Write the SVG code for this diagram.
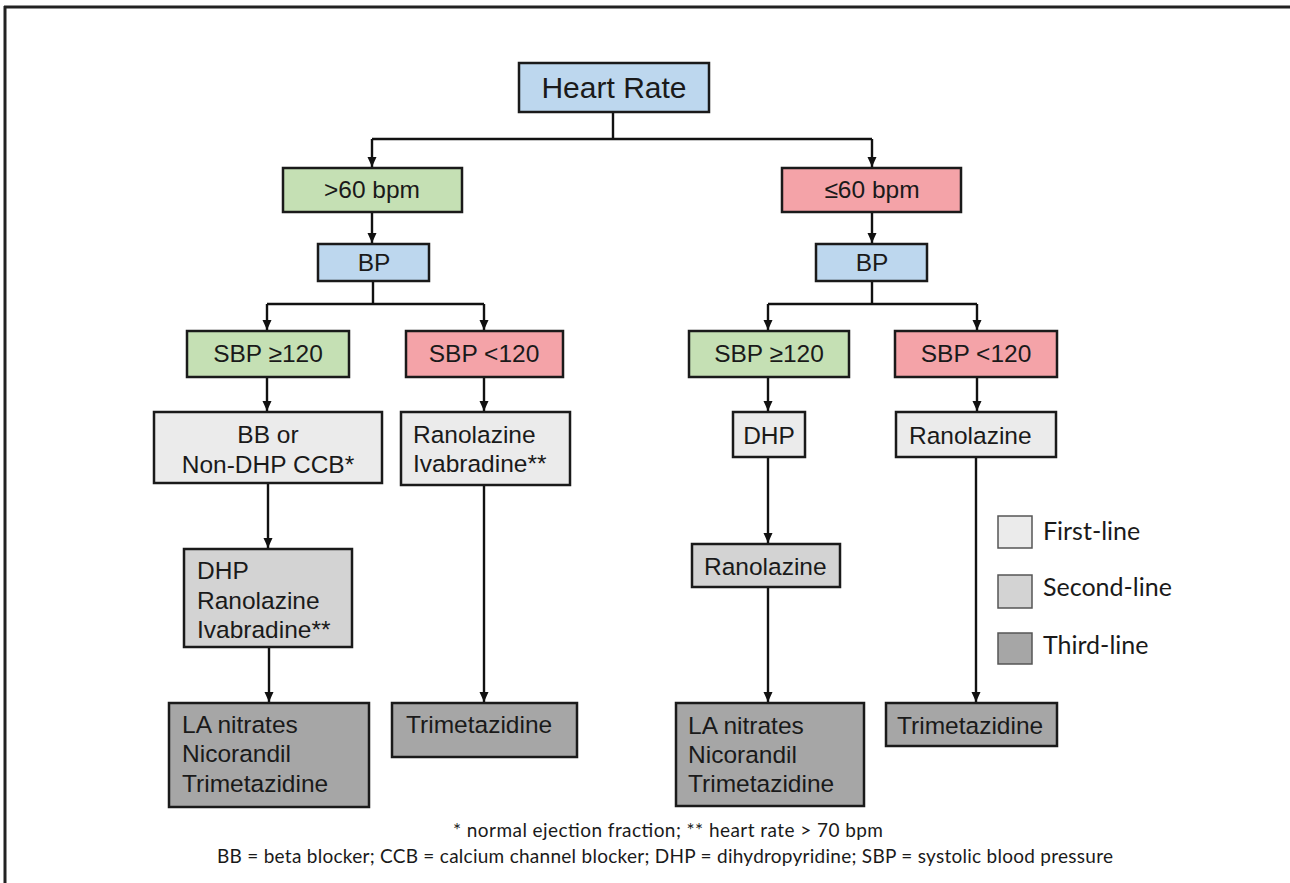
<svg xmlns="http://www.w3.org/2000/svg" width="1290" height="883" viewBox="0 0 1290 883">
<defs>
<marker id="ah" markerUnits="userSpaceOnUse" markerWidth="10" markerHeight="10" refX="10" refY="5" orient="auto">
<path d="M0,0.5 L10,5 L0,9.5 z" fill="#111"/>
</marker>
<style>
.box{stroke:#1a1a1a;stroke-width:2.5}
.blue{fill:#bdd7ee}
.green{fill:#c5e0b4}
.pink{fill:#f4a3a8}
.l1{fill:#ebebeb}
.l2{fill:#d3d3d3}
.l3{fill:#a6a6a6}
.t{font-family:"Liberation Sans",Arial,sans-serif;font-size:24.5px;fill:#1a1a1a}
.c{text-anchor:middle}
.leg{stroke:#555;stroke-width:1.5}
.lt{font-family:Lato,"Open Sans",sans-serif;font-size:25px;fill:#1a1a1a}
.ft{font-family:Lato,"Open Sans",sans-serif;font-size:19px;fill:#1a1a1a;text-anchor:middle}
.cn{fill:none;stroke:#111;stroke-width:2.4}
</style>
</defs>
<rect width="1290" height="883" fill="#fff"/>
<g id="frame">
<line x1="4" y1="7" x2="1290" y2="7" stroke="#222" stroke-width="3"/>
<line x1="5" y1="6" x2="5" y2="883" stroke="#222" stroke-width="3"/>
</g>
<g id="connectors">
<path class="cn" d="M613,112 V139 H372 M613,139 H872"/>
<path class="cn" d="M372,139 V167" marker-end="url(#ah)"/>
<path class="cn" d="M872,139 V167" marker-end="url(#ah)"/>
<path class="cn" d="M372,212 V243" marker-end="url(#ah)"/>
<path class="cn" d="M872,212 V243" marker-end="url(#ah)"/>
<path class="cn" d="M373,281 V304 H267 M373,304 H484"/>
<path class="cn" d="M267,304 V330" marker-end="url(#ah)"/>
<path class="cn" d="M484,304 V330" marker-end="url(#ah)"/>
<path class="cn" d="M872,281 V304 H768 M872,304 H977"/>
<path class="cn" d="M768,304 V330" marker-end="url(#ah)"/>
<path class="cn" d="M977,304 V330" marker-end="url(#ah)"/>
<path class="cn" d="M267,377 V411" marker-end="url(#ah)"/>
<path class="cn" d="M484,377 V411" marker-end="url(#ah)"/>
<path class="cn" d="M768,377 V411" marker-end="url(#ah)"/>
<path class="cn" d="M977,377 V411" marker-end="url(#ah)"/>
<path class="cn" d="M268,483 V548" marker-end="url(#ah)"/>
<path class="cn" d="M768,457 V543" marker-end="url(#ah)"/>
<path class="cn" d="M269,647 V702" marker-end="url(#ah)"/>
<path class="cn" d="M484,485 V702" marker-end="url(#ah)"/>
<path class="cn" d="M768,587 V702" marker-end="url(#ah)"/>
<path class="cn" d="M976,457 V702" marker-end="url(#ah)"/>
</g>
<g id="heart-rate">
<rect class="box blue" x="519" y="63" width="190" height="49"/>
<text class="t c" x="614" y="98" style="font-size:30px">Heart Rate</text>
</g>
<g id="hr-high">
<rect class="box green" x="283" y="168" width="179" height="44"/>
<text class="t c" x="372" y="198">&gt;60 bpm</text>
</g>
<g id="hr-low">
<rect class="box pink" x="782" y="168" width="179" height="44"/>
<text class="t c" x="872" y="198">≤60 bpm</text>
</g>
<g id="bp-left">
<rect class="box blue" x="318" y="244" width="111" height="37"/>
<text class="t c" x="374" y="271">BP</text>
</g>
<g id="bp-right">
<rect class="box blue" x="816" y="244" width="111" height="37"/>
<text class="t c" x="872" y="271">BP</text>
</g>
<g id="sbp-high-left">
<rect class="box green" x="187" y="331" width="162" height="46"/>
<text class="t c" x="268" y="362">SBP ≥120</text>
</g>
<g id="sbp-low-left">
<rect class="box pink" x="406" y="331" width="157" height="46"/>
<text class="t c" x="484" y="362">SBP &lt;120</text>
</g>
<g id="sbp-high-right">
<rect class="box green" x="689" y="331" width="160" height="46"/>
<text class="t c" x="769" y="362">SBP ≥120</text>
</g>
<g id="sbp-low-right">
<rect class="box pink" x="895" y="331" width="162" height="46"/>
<text class="t c" x="976" y="362">SBP &lt;120</text>
</g>
<g id="bb-ccb">
<rect class="box l1" x="154" y="412" width="228" height="71"/>
<text class="t c" x="268" y="443">BB or</text>
<text class="t c" x="268" y="473">Non-DHP CCB*</text>
</g>
<g id="ran-iva">
<rect class="box l1" x="401" y="412" width="169" height="73"/>
<text class="t" x="413" y="443">Ranolazine</text>
<text class="t" x="413" y="472">Ivabradine**</text>
</g>
<g id="dhp-right">
<rect class="box l1" x="733" y="412" width="72" height="45"/>
<text class="t c" x="769" y="444">DHP</text>
</g>
<g id="ran-right">
<rect class="box l1" x="896" y="412" width="160" height="45"/>
<text class="t" x="909" y="444">Ranolazine</text>
</g>
<g id="second-left">
<rect class="box l2" x="184" y="549" width="168" height="98"/>
<text class="t" x="197" y="579">DHP</text>
<text class="t" x="197" y="609">Ranolazine</text>
<text class="t" x="197" y="638">Ivabradine**</text>
</g>
<g id="second-right">
<rect class="box l2" x="692" y="544" width="148" height="43"/>
<text class="t" x="704" y="575">Ranolazine</text>
</g>
<g id="third-left">
<rect class="box l3" x="169" y="703" width="200" height="104"/>
<text class="t" x="182" y="733">LA nitrates</text>
<text class="t" x="182" y="762">Nicorandil</text>
<text class="t" x="182" y="792">Trimetazidine</text>
</g>
<g id="third-mid">
<rect class="box l3" x="392" y="703" width="185" height="54"/>
<text class="t" x="406" y="733">Trimetazidine</text>
</g>
<g id="third-right-a">
<rect class="box l3" x="676" y="703" width="188" height="103"/>
<text class="t" x="688" y="734">LA nitrates</text>
<text class="t" x="688" y="763">Nicorandil</text>
<text class="t" x="688" y="792">Trimetazidine</text>
</g>
<g id="third-right-b">
<rect class="box l3" x="886" y="703" width="171" height="43"/>
<text class="t" x="897" y="734">Trimetazidine</text>
</g>
<g id="legend">
<rect class="leg l1" x="998" y="516" width="34" height="32"/>
<text class="lt" x="1043" y="540">First-line</text>
<rect class="leg l2" x="998" y="575" width="34" height="33"/>
<text class="lt" x="1043" y="596">Second-line</text>
<rect class="leg l3" x="998" y="633" width="34" height="31"/>
<text class="lt" x="1043" y="654">Third-line</text>
</g>
<g id="footer">
<text class="ft" x="668" y="837" textLength="430">* normal ejection fraction; ** heart rate &gt; 70 bpm</text>
<text class="ft" x="665" y="863" textLength="896">BB = beta blocker; CCB = calcium channel blocker; DHP = dihydropyridine; SBP = systolic blood pressure</text>
</g>
</svg>
